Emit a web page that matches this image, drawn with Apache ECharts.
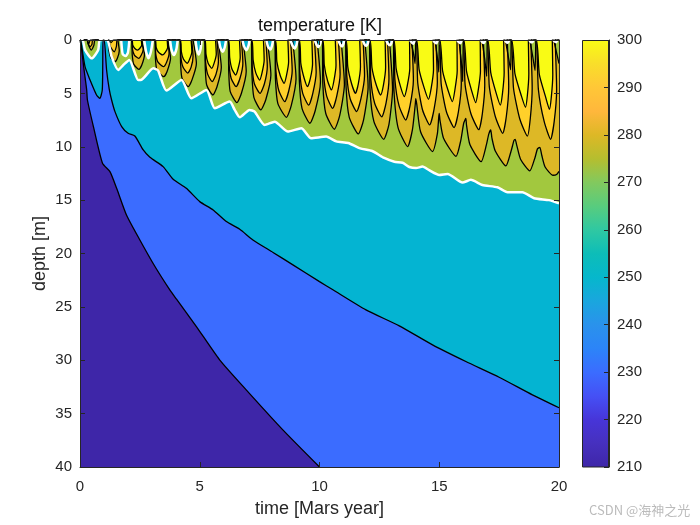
<!DOCTYPE html>
<html lang="en">
<head>
    <meta charset="UTF-8">
    <title>temperature [K]</title>
    <script src="https://cdn.jsdelivr.net/npm/echarts@6/dist/echarts.min.js"></script>
    <style>
        html, body { margin: 0; background: #fff; }
        #chart { width: 700px; height: 525px; }
    </style>
</head>
<body>
    <div id="chart"></div>
    <script>
        // contour depths [time, depth]
        const lightLevel = [[0,0],[.3,0],[.36,.4],[.44,0],[1.2,0],[1.3,.25],[1.4,0],
            [2.17,0],[2.2,.47],[2.28,.77],[2.4,.94],[2.5,.77],[2.58,.47],[2.56,0],
            [3.14,0],[3.18,.7],[3.28,1.15],[3.45,1.4],[3.56,1.15],[3.66,.7],[3.64,0],
            [4.19,0],[4.23,1.09],[4.32,1.79],[4.48,2.18],[4.58,1.79],[4.67,1.09],[4.64,0],
            [5.22,0],[5.26,1.33],[5.35,2.17],[5.5,2.65],[5.6,2.17],[5.69,1.33],[5.66,0],
            [6.2,0],[6.25,1.64],[6.34,2.69],[6.5,3.28],[6.6,2.69],[6.69,1.64],[6.66,0],
            [7.17,0],[7.23,1.88],[7.34,3.08],[7.5,3.75],[7.6,3.08],[7.69,1.88],[7.66,0],
            [8.15,0],[8.22,2.03],[8.36,3.33],[8.52,4.06],[8.62,3.33],[8.71,2.03],[8.68,0],
            [9.15,0],[9.22,2.19],[9.36,3.58],[9.5,4.37],[9.62,3.58],[9.71,2.19],[9.68,0],
            [10.13,0],[10.2,2.34],[10.34,3.84],[10.5,4.68],[10.6,3.84],[10.69,2.34],[10.66,0],
            [11.1,0],[11.18,2.5],[11.34,4.1],[11.5,5],[11.62,4.1],[11.71,2.5],[11.68,0],
            [12.1,0],[12.19,2.58],[12.37,4.22],[12.55,5.15],[12.67,4.22],[12.76,2.58],[12.74,0],
            [13.1,0],[13.2,2.65],[13.38,4.35],[13.54,5.3],[13.66,4.35],[13.77,2.65],[13.76,0],
            [14.05,0],[14.16,2.78],[14.38,4.56],[14.55,5.56],[14.66,4.56],[14.76,2.78],[14.74,0],
            [15.02,0],[15.14,2.89],[15.37,4.73],[15.55,5.77],[15.65,4.73],[15.75,2.89],[15.74,0],
            [16.02,0],[16.14,2.94],[16.36,4.81],[16.52,5.87],[16.62,4.81],[16.72,2.94],[16.71,0],
            [17.02,0],[17.15,3.05],[17.38,5],[17.55,6.1],[17.64,5],[17.71,3.05],[17.69,0],
            [18.02,0],[18.16,3.15],[18.42,5.17],[18.6,6.3],[18.68,5.17],[18.74,3.15],[18.72,0],
            [19.05,0],[19.18,3.25],[19.44,5.33],[19.6,6.5],[19.68,5.33],[19.74,3.25],[19.72,0],[20,0]];

        const darkLevel = [[0,0],[.29,0],[.35,.4],[.42,.62],[.5,.4],[.53,0],
            [1.19,0],[1.26,.6],[1.43,1.1],[1.52,.6],[1.56,0],
            [2.16,0],[2.19,.86],[2.27,1.41],[2.45,1.72],[2.56,1.41],[2.64,.86],[2.58,0],
            [3.13,0],[3.16,1.25],[3.25,2.05],[3.48,2.5],[3.62,2.05],[3.72,1.25],[3.66,0],
            [4.18,0],[4.21,1.55],[4.3,2.54],[4.5,3.1],[4.64,2.54],[4.72,1.55],[4.66,0],
            [5.21,0],[5.24,1.95],[5.33,3.2],[5.52,3.9],[5.68,3.2],[5.78,1.95],[5.72,0],
            [6.19,0],[6.22,2.19],[6.31,3.58],[6.52,4.37],[6.68,3.58],[6.8,2.19],[6.74,0],
            [7.16,0],[7.19,2.5],[7.28,4.1],[7.52,5],[7.7,4.1],[7.82,2.5],[7.76,0],
            [8.14,0],[8.18,2.89],[8.3,4.73],[8.55,5.77],[8.72,4.73],[8.86,2.89],[8.79,0],
            [9.14,0],[9.18,3.05],[9.3,5],[9.55,6.1],[9.72,5],[9.86,3.05],[9.79,0],
            [10.12,0],[10.17,3.2],[10.3,5.25],[10.55,6.4],[10.72,5.25],[10.86,3.2],[10.79,0],
            [11.09,0],[11.14,3.35],[11.28,5.5],[11.55,6.7],[11.73,5.5],[11.88,3.35],[11.82,0],
            [12.09,0],[12.14,3.6],[12.3,5.9],[12.6,7.2],[12.78,5.9],[12.9,3.6],[12.84,0],
            [13.09,0],[13.15,3.75],[13.32,6.15],[13.6,7.5],[13.78,6.15],[13.92,3.75],[13.86,0],
            [14.04,0],[14.1,3.98],[14.3,6.53],[14.6,7.96],[14.78,6.53],[14.92,3.98],[14.86,0],
            [15.01,0],[15.08,4.1],[15.3,6.72],[15.62,8.2],[15.8,6.72],[15.92,4.1],[15.86,0],
            [16.01,0],[16.08,4.2],[16.32,6.89],[16.65,8.4],[16.8,6.89],[16.9,4.2],[16.84,0],
            [17.01,0],[17.09,4.37],[17.34,7.17],[17.65,8.74],[17.8,7.17],[17.9,4.37],[17.84,0],
            [18.01,0],[18.1,4.5],[18.36,7.38],[18.68,9],[18.8,7.38],[18.88,4.5],[18.82,0],
            [19.04,0],[19.14,4.65],[19.38,7.63],[19.65,9.3],[19.8,7.63],[19.9,4.65],[19.84,0],[20,0]];

        const oliveLevel = [[0,0],[.28,0],[.36,.5],[.47,.94],[.58,.5],[.63,0],
            [1.18,0],[1.21,1],[1.28,1.65],[1.46,2.03],[1.56,1.7],[1.64,1],[1.58,0],
            [2.15,0],[2.18,1.38],[2.24,2.26],[2.46,2.75],[2.58,2.34],[2.69,1.38],[2.56,0],
            [3.12,0],[3.15,1.72],[3.21,2.81],[3.5,3.43],[3.64,2.92],[3.78,1.72],[3.66,0],
            [4.17,0],[4.2,2.19],[4.26,3.58],[4.52,4.37],[4.68,3.71],[4.86,2.19],[4.72,0],
            [5.2,0],[5.23,2.58],[5.29,4.22],[5.55,5.15],[5.72,4.38],[5.9,2.58],[5.76,0],
            [6.18,0],[6.21,2.94],[6.27,4.81],[6.55,5.87],[6.74,4.99],[6.94,2.94],[6.8,0],
            [7.15,0],[7.18,3.28],[7.26,5.37],[7.55,6.55],[7.76,5.57],[7.97,3.28],[7.82,0],
            [8.13,0],[8.16,3.62],[8.26,5.94],[8.62,7.24],[8.82,6.15],[9.02,3.62],[8.88,0],
            [9.13,0],[9.16,3.9],[9.27,6.4],[9.6,7.8],[9.82,6.63],[10.04,3.9],[9.9,0],
            [10.11,0],[10.14,4.18],[10.26,6.86],[10.62,8.36],[10.84,7.11],[11.04,4.18],[10.9,0],
            [11.08,0],[11.11,4.4],[11.24,7.22],[11.62,8.8],[11.84,7.48],[12.03,4.4],[11.89,0],
            [12.08,0],[12.11,4.65],[12.27,7.63],[12.68,9.3],[12.9,7.9],[13.05,4.65],[12.92,0],
            [13.08,0],[13.11,4.75],[13.28,8.2],[13.68,9.98],[13.88,8.4],[14,6],[14.02,5.5],
            [14.06,6],[14.22,8.6],[14.72,10.45],[14.92,8.8],[14.98,7.2],[15,6.87],
            [15.03,7.5],[15.18,9.2],[15.7,10.9],[15.9,9.4],[16.02,7.8],[16.11,7.34],
            [16.14,8],[16.28,9.8],[16.75,11.4],[16.97,9.8],[17.07,8.8],[17.15,8.43],
            [17.2,9.2],[17.34,10.4],[17.78,11.8],[18,10.4],[18.12,9.4],[18.17,9.3],
            [18.24,9.9],[18.4,11.2],[18.78,12.26],[19,11],[19.1,10.2],[19.2,10.05],
            [19.28,10.8],[19.42,11.9],[19.75,12.67],[19.9,12.6],[20,12.3]];

        const olivePockets = [
            [[13.8,0],[13.92,1.2],[13.99,2.2],[14.02,0]],
            [[14.82,0],[14.92,1.6],[14.98,3],[15,0]],
            [[15.82,0],[15.92,2],[15.98,3.9],[16,0]],
            [[16.78,0],[16.9,1.8],[16.98,3.4],[17,0]],
            [[17.76,0],[17.88,1.5],[17.98,2.8],[18,0]],
            [[18.78,0],[18.9,1.5],[19,2.85],[19.03,0]],
            [[19.78,0],[19.9,1.2],[20,2.2]]];

        const tealLevel = [[0,0],[.11,0],[.21,.94],[.49,1.72],[.76,.94],[.83,0],[1.14,0],[1.32,1.56],[1.6,2.81],
            [1.81,2.34],[2.06,1.87],[2.43,3.75],[2.54,3.75],[3.06,2.65],[3.26,2.87],[3.61,4.74],[4.24,3.75],
            [4.65,5.46],[5.28,4.68],[5.63,6.4],[6.25,5.77],[6.46,6.55],[6.67,7.24],[7.08,6.55],[7.29,6.71],
            [7.71,7.96],[8.13,7.65],[8.68,8.58],[9.24,8.27],[9.65,9.2],[10.28,9.05],[10.7,9.5],[11.2,9.65],
            [11.7,10.15],[12.2,10.4],[12.7,11.05],[13.125,11.4],[13.47,11.5],[13.75,11.9],[14.03,12],[14.3,11.86],
            [14.58,12.2],[15,12.64],[15.35,12.55],[15.97,13.36],[16.32,13.1],[16.8,13.58],[17.43,13.8],
            [17.85,14.26],[18.47,14.26],[18.96,14.82],[19.58,15],[20,15.3]];

        const tealPockets = [
            [[1.72,0],[1.78,1.3],[1.9,1.5],[2,1.2],[2.06,0]],
            [[2.68,0],[2.76,1.1],[2.86,1.7],[2.96,1.1],[3.04,0]],
            [[3.76,0],[3.82,.9],[3.92,1.4],[4.02,.9],[4.08,0]],
            [[4.82,0],[4.88,.9],[4.96,1.35],[5.03,.9],[5.08,0]],
            [[5.8,0],[5.86,.7],[5.96,1.1],[6.04,.7],[6.1,0]],
            [[6.78,0],[6.85,.6],[6.95,.95],[7.04,.5],[7.08,0]],
            [[7.78,0],[7.85,.6],[7.95,.9],[8.02,.5],[8.06,0]],
            [[8.78,0],[8.88,.55],[8.96,.8],[9.04,.45],[9.08,0]],
            [[9.8,0],[9.88,.45],[9.96,.65],[10.02,.4],[10.06,0]],
            [[10.78,0],[10.86,.4],[10.94,.6],[11,.35],[11.03,0]],
            [[11.8,0],[11.88,.4],[11.96,.55],[12.02,.3],[12.05,0]],
            [[12.78,0],[12.86,.35],[12.94,.5],[13,.3],[13.03,0]],
            [[13.78,0],[13.86,.25],[13.92,.35],[13.98,0]],
            [[14.74,0],[14.82,.22],[14.88,.3],[14.94,0]],
            [[15.74,0],[15.82,.2],[15.88,.3],[15.94,0]],
            [[16.74,0],[16.8,.2],[16.86,.28],[16.92,0]],
            [[17.74,0],[17.8,.2],[17.86,.26],[17.92,0]],
            [[18.76,0],[18.82,.18],[18.88,.22],[18.94,0]],
            [[19.76,0],[19.82,.15],[19.88,.2],[19.94,0]]];

        const blueLevel = [[0,0],[.03,0],[.05,.3],[.21,2.5],[.42,3.75],[.69,5.15],[.83,5.46],[.93,4.68],[.95,2.18],[.96,0],
            [1.01,0],[1.11,2.81],[1.22,4.6],[1.32,5.62],[1.46,6.71],[1.74,8.11],[2.01,8.74],[2.29,8.99],[2.64,10.3],
            [2.92,10.99],[3.47,11.86],[3.89,13.05],[4.44,13.89],[5,15.14],[5.56,15.92],[6.11,17.01],[6.67,17.73],
            [7.22,18.73],[8.06,19.9],[8.89,21.07],[10,22.63],[10.56,23.4],[11.94,25.28],[13.33,26.78],[14.72,28.56],
            [16.11,30.12],[17.5,31.59],[18.89,33.24],[20,34.45]];

        const indigoLevel = [[0,0],[.07,.94],[.17,2.8],[.28,4.68],[.31,5.62],[.56,8.11],[.94,11.55],[1.25,12.33],[1.53,13.89],
            [1.94,16.39],[2.5,18.73],[3.13,21.22],[3.75,23.41],[4.03,24.28],[4.86,26.84],[5.83,29.96],[6.94,32.77],
            [8.47,36.52],[10,40]];

        const fillColors = ['#FFD02A', '#DDB826', '#A2C83E', '#04B4D2', '#3B6CFF', '#3E26A8'];
        const yellow = '#F9FB15';

        const colorbarMin = 210;
        const colorbarMax = 300;
        // every 5 K, top to bottom
        const colorbarColors = ['#F9FB15', '#F9DE2A', '#FFC737', '#FFB73C', '#DDB826', '#B5BE2F', '#82C95E', '#58CC7E', '#2FC8A2', '#0DBDB8',
            '#06B7CC', '#1AA6DE', '#2A92EC', '#2C84F8', '#3B6CFF', '#4550F5', '#4735D8', '#4630BE', '#3E26A8'];

        const font = 'Liberation Sans';
        const ink = '#262626';

        // join separate pockets with an empty value so the line and area break
        function joinPockets(pockets) {
            return pockets.flatMap((p, i) => i ? [[p[0][0], null], ...p] : p);
        }

        function contour(name, data, fill, lineColor, lineWidth, origin) {
            return {
                name: name, type: 'line', data: data, showSymbol: false, smooth: 0.2, silent: true,
                lineStyle: { color: lineColor, width: lineWidth },
                areaStyle: { color: fill, opacity: 1, origin: origin }
            };
        }

        const chart = echarts.init(document.getElementById('chart'));
        const boxAxis = {
            axisLine: { show: true, onZero: false, lineStyle: { color: ink, width: 1 } },
            axisTick: { show: true, inside: true, length: 5, lineStyle: { color: ink } },
            splitLine: { show: false }, z: 10
        };
        const nameStyle = { fontFamily: font, fontSize: 18, color: ink };
        const tickStyle = { fontFamily: font, fontSize: 15, color: ink };
        const option = {
            animation: false,
            title: {
                text: 'temperature [K]', left: 315, top: 12, textAlign: 'center',
                textStyle: { fontFamily: font, fontSize: 18, fontWeight: 'normal', color: '#111' }
            },
            grid: [
                { left: 80, top: 40, width: 479, height: 427, show: true, backgroundColor: yellow, borderWidth: 0 },
                { left: 582, top: 40, width: 27, height: 427 }
            ],
            xAxis: [
                { ...boxAxis, type: 'value', gridIndex: 0, min: 0, max: 20, interval: 5, position: 'bottom',
                  name: 'time [Mars year]', nameLocation: 'middle', nameGap: 33, nameMoveOverlap: false, nameTextStyle: nameStyle,
                  axisLabel: { ...tickStyle, margin: 12 } },
                { ...boxAxis, type: 'value', gridIndex: 0, min: 0, max: 20, interval: 5, position: 'top', axisLabel: { show: false } },
                { type: 'category', gridIndex: 1, data: ['T'], show: false }
            ],
            yAxis: [
                { ...boxAxis, type: 'value', gridIndex: 0, min: 0, max: 40, interval: 5, inverse: true, position: 'left',
                  name: 'depth [m]', nameLocation: 'middle', nameGap: 31, nameMoveOverlap: false, nameTextStyle: nameStyle,
                  axisLabel: { ...tickStyle, margin: 8 } },
                { ...boxAxis, type: 'value', gridIndex: 0, min: 0, max: 40, interval: 5, inverse: true, position: 'right', axisLabel: { show: false } },
                { ...boxAxis, type: 'value', gridIndex: 1, min: colorbarMin, max: colorbarMax, interval: 10, position: 'right',
                  axisLabel: { ...tickStyle, margin: 8 } }
            ],
            series: [
                contour('light', lightLevel, fillColors[0], '#000', 1.3, 'end'),
                contour('dark', darkLevel, fillColors[1], '#000', 1.3, 'end'),
                contour('olive', oliveLevel, fillColors[2], '#000', 1.3, 'end'),
                contour('olive pockets', joinPockets(olivePockets), fillColors[2], '#000', 1.3, 'start'),
                contour('teal', tealLevel, fillColors[3], '#fff', 2.5, 'end'),
                contour('teal pockets', joinPockets(tealPockets), fillColors[3], '#fff', 2.5, 'start'),
                contour('blue', blueLevel, fillColors[4], '#000', 1.3, 'end'),
                contour('indigo', indigoLevel, fillColors[5], '#000', 1.3, 'end'),
                {
                    name: 'colorbar', type: 'bar', xAxisIndex: 2, yAxisIndex: 2, data: [colorbarMax], barWidth: '100%', silent: true,
                    itemStyle: {
                        borderColor: ink, borderWidth: 1,
                        color: new echarts.graphic.LinearGradient(0, 0, 0, 1,
                            colorbarColors.map((c, i) => ({ offset: i / (colorbarColors.length - 1), color: c })))
                    }
                }
            ],
            graphic: [{
                type: 'text', left: 589, top: 504,
                style: { text: 'CSDN @海神之光', fill: '#bbb', fontSize: 13, fontFamily: 'Noto Sans CJK SC' }
            }]
        };
        chart.setOption(option);
    </script>
</body>
</html>
